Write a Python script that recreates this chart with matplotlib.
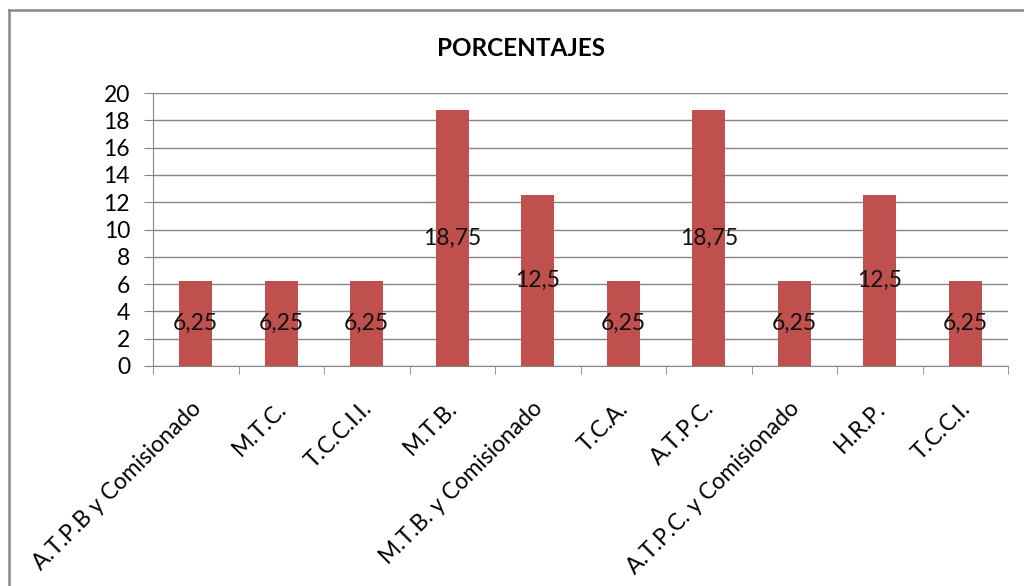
import matplotlib
matplotlib.use('Agg')
import matplotlib.pyplot as plt
import matplotlib.transforms as mtransforms
from matplotlib.lines import Line2D
import numpy as np

plt.rcParams['font.family'] = ['Lato', 'DejaVu Sans']

categorias = ["A.T.P.B y Comisionado", "M.T.C.", "T.C.C.I.I.", "M.T.B.",
              "M.T.B. y Comisionado", "T.C.A.", "A.T.P.C.",
              "A.T.P.C. y Comisionado", "H.R.P.", "T.C.C.I."]
porcentajes = [6.25, 6.25, 6.25, 18.75, 12.5, 6.25, 18.75, 6.25, 12.5, 6.25]
etiquetas = ["6,25", "6,25", "6,25", "18,75", "12,5", "6,25", "18,75", "6,25", "12,5", "6,25"]
y_ticks = list(range(0, 21, 2))

fig = plt.figure(figsize=(10.24, 5.86), dpi=100)
ax = fig.add_axes([153/1024, 1 - 366/586, (1008 - 153)/1024, (366 - 93)/586])

x = np.arange(len(categorias))
ax.bar(x, porcentajes, width=0.39, color='#C0504D', zorder=3)

# value labels sit in the middle of each bar
for xi, v, t in zip(x, porcentajes, etiquetas):
    ax.text(xi, v / 2, t, ha='center', va='center', fontsize=16.5,
            color='#111111', zorder=4)

ax.set_xlim(-0.5, len(categorias) - 0.5)
ax.set_ylim(0, 20)
ax.set_yticks(y_ticks)
ax.tick_params(axis='y', labelsize=16.5, length=6.5, color='#868686', pad=5)
ax.grid(axis='y', color='#868686', linewidth=1, zorder=0)
for lbl in ax.get_yticklabels():
    lbl.set_transform(lbl.get_transform() +
                      mtransforms.ScaledTranslation(-5/72, 0, fig.dpi_scale_trans))

# category labels at the centres, tick marks between categories
ax.set_xticks(x)
ax.set_xticklabels(categorias, rotation=45, ha='right', rotation_mode='anchor',
                   fontsize=16.5)
ax.tick_params(axis='x', length=0, pad=23)
ax.set_xticks(np.arange(-0.5, len(categorias), 1), minor=True)
ax.tick_params(axis='x', which='minor', length=6, color='#868686')
for lbl in ax.get_xticklabels():
    lbl.set_transform(lbl.get_transform() +
                      mtransforms.ScaledTranslation(-4/72, 0, fig.dpi_scale_trans))

for s in ['top', 'right']:
    ax.spines[s].set_visible(False)
for s in ['left', 'bottom']:
    ax.spines[s].set_color('#868686')

fig.text(0.509, 1 - 48/586, "PORCENTAJES", ha='center', va='center',
         fontsize=17.5, fontweight='bold')

# chart frame
fig.add_artist(Line2D([9/1024, 9/1024], [0, 1 - 10/586], transform=fig.transFigure,
                      color='#878787', linewidth=1.8))
fig.add_artist(Line2D([9/1024, 1], [1 - 10/586, 1 - 10/586], transform=fig.transFigure,
                      color='#878787', linewidth=1.8))

fig.savefig('out.png', dpi=100)
